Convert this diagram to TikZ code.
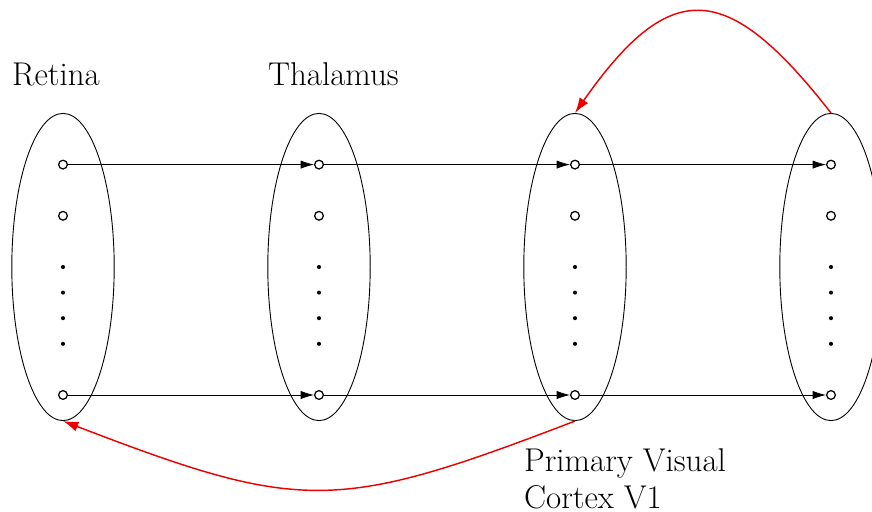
\documentclass[tikz,border=0pt]{standalone}
\usepackage{tikz}
\usetikzlibrary{arrows.meta, positioning, shapes.geometric}
\definecolor{feedred}{RGB}{235,0,0}

\begin{document}
\begin{tikzpicture}[
    layer/.style={draw, ellipse, line width=0.5pt, inner sep=0pt, minimum width=2cm, minimum height=6cm},
    neuron/.style={draw, circle, line width=0.7pt, fill=white, inner sep=0pt, minimum size=0.17cm},
    dotnode/.style={circle, fill=black, inner sep=0pt, minimum size=0.08cm},
    lbl/.style={inner sep=0pt, font=\fontsize{18.3}{20.5}\selectfont},
    fwd/.style={-{Latex[length=2.6mm,width=1.6mm]}},
    back/.style={feedred, line width=0.8pt, -{Latex[length=3mm,width=2mm]}}]
  \useasboundingbox (-1.2305,-4.785) rectangle (15.8008,5.215);
  \foreach \i/\x in {1/0,2/5,3/10,4/15}{
    \node[layer] (l\i) at (\x,0) {};
    \node[neuron] (n\i a) at (\x,2) {};
    \node[neuron] (n\i b) at (\x,1) {};
    \foreach \k/\y in {1/0,2/-0.5,3/-1,4/-1.5}
      \node[dotnode] (d\i\k) at (\x,\y) {};
    \node[neuron] (n\i z) at (\x,-2.5) {};
  }
  % forward connections
  \foreach \i/\j in {1/2,2/3,3/4}{
    \draw[fwd] (n\i a) -- (n\j a);
    \draw[fwd] (n\i z) -- (n\j z);
  }
  % feedback
  \draw[back] (l4.north) to[out=128, in=55, looseness=1.68] (l3.north);
  \draw[back] (l3.south) to[out=201, in=-21, looseness=1.28] (l1.south);
  % labels
  \node[lbl, anchor=base west] (retina) at (-1.0,3.55) {Retina};
  \node[lbl, anchor=base west] (thal) at (4.0,3.55) {Thalamus};
  \node[lbl, anchor=base west, align=left] (vone) at (9.0,-4.72) {Primary Visual\\Cortex V1};
\end{tikzpicture}
\end{document}
